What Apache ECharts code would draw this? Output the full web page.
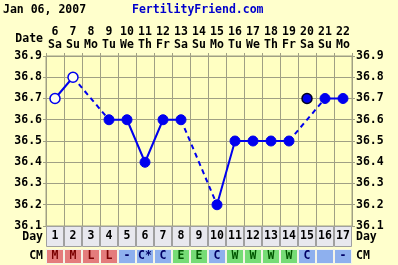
<!DOCTYPE html>
<html><head><meta charset="utf-8">
<script src="https://cdn.jsdelivr.net/npm/echarts@6/dist/echarts.min.js"></script>
<style>html,body{margin:0;padding:0;background:#FFFFCC;}#c{width:398px;height:265px;}</style>
</head><body><div id="c"></div>
<script>
const cycleDays = ['1','2','3','4','5','6','7','8','9','10','11','12','13','14','15','16','17'];
const dates = ['6','7','8','9','10','11','12','13','14','15','16','17','18','19','20','21','22'];
const weekdays = ['Sa','Su','Mo','Tu','We','Th','Fr','Sa','Su','Mo','Tu','We','Th','Fr','Sa','Su','Mo'];
const temps = [36.7,36.8,null,36.6,36.6,36.4,36.6,36.6,null,36.2,36.5,36.5,36.5,36.5,36.7,36.7,36.7];
const openDays = [1,2];
const discardedDays = [15];
const cm = ['M','M','L','L','-','C*','C','E','E','C','W','W','W','W','C','','-'];
const tempTicks = [36.1,36.2,36.3,36.4,36.5,36.6,36.7,36.8,36.9];

const FONT = 'DejaVu Sans Mono';
const FS = 11.5;
const BLUE = '#0000EE';
const GRIDC = '#A0A084';
const cmFill = {M:'#E47C7C',L:'#E47C7C','-':'#8EB0EE','C*':'#8EB0EE',C:'#8EB0EE','':'#8EB0EE',E:'#76DC76',W:'#76DC76'};
const cmText = {M:'#7A0000',L:'#7A0000','-':'#000066','C*':'#000066',C:'#000066','':'#000066',E:'#005500',W:'#005500'};

const lineData = temps.map((t,i)=> discardedDays.includes(i+1) ? null : t);
const mainData = lineData.map((t,i)=>{
  if (t===null) return null;
  if (openDays.includes(i+1)) return {value:t, symbol:'circle', symbolSize:10, itemStyle:{color:'#FFFFF0', borderColor:BLUE, borderWidth:1.5}};
  return {value:t, symbol:'circle', symbolSize:10, itemStyle:{color:BLUE, borderColor:BLUE, borderWidth:1}};
});
const discData = temps.map((t,i)=> discardedDays.includes(i+1) ? t : null);

const dashedSeries = [];
let prev = -1;
for (let i=0;i<lineData.length;i++){
  if (lineData[i]!==null){
    if (prev>=0 && i-prev>1){
      const d = lineData.map((_,k)=> (k===prev||k===i) ? lineData[k] : null);
      dashedSeries.push({type:'line', xAxisIndex:0, yAxisIndex:0, data:d, connectNulls:true, showSymbol:false, symbol:'none', silent:true, z:2,
        lineStyle:{color:BLUE, width:2, type:[5,4]}});
    }
    prev = i;
  }
}

const chart = echarts.init(document.getElementById('c'), null, {renderer:'canvas'});
const txt = (t, x, y, color, align) => ({type:'text', x:x, y:y, style:{text:t, fill:color||'#000', font:'bold '+FS+'px "'+FONT+'"', textAlign:align||'left', textVerticalAlign:'middle'}});

chart.setOption({
  backgroundColor:'#FFFFCC',
  animation:false,
  textStyle:{fontFamily:FONT},
  grid:[
    {left:46, top:56, width:306, height:170, show:true, backgroundColor:'#FFFFC2', borderColor:GRIDC, borderWidth:1},
    {left:46, top:226, width:306, height:21},
    {left:46, top:249, width:306, height:15}
  ],
  xAxis:[
    {gridIndex:0, type:'category', position:'top', data:dates, boundaryGap:true,
     axisLine:{show:true, lineStyle:{color:GRIDC}},
     axisTick:{show:true, length:3, inside:false, lineStyle:{color:GRIDC}},
     splitLine:{show:true, interval:0, lineStyle:{color:GRIDC, width:1}},
     axisLabel:{interval:0, margin:4, color:'#000', fontFamily:FONT, fontWeight:'bold', fontSize:FS, lineHeight:13,
       formatter:(v,i)=> v+'\n'+weekdays[i]}},
    {gridIndex:1, type:'category', data:cycleDays, boundaryGap:true, show:false},
    {gridIndex:2, type:'category', data:cycleDays, boundaryGap:true, show:false}
  ],
  yAxis:[
    {gridIndex:0, type:'value', min:36.1, max:36.9, interval:0.1, position:'left',
     axisLine:{show:true, lineStyle:{color:GRIDC}},
     axisTick:{show:true, length:3, lineStyle:{color:GRIDC}},
     splitLine:{show:true, lineStyle:{color:GRIDC, width:1}},
     axisLabel:{margin:4, color:'#000', fontFamily:FONT, fontWeight:'bold', fontSize:FS, formatter:v=>v.toFixed(1)}},
    {gridIndex:0, type:'value', min:36.1, max:36.9, interval:0.1, position:'right',
     axisLine:{show:true, lineStyle:{color:GRIDC}},
     axisTick:{show:true, length:3, lineStyle:{color:GRIDC}},
     splitLine:{show:false},
     axisLabel:{margin:4, color:'#000', fontFamily:FONT, fontWeight:'bold', fontSize:FS, formatter:v=>v.toFixed(1)}},
    {gridIndex:1, type:'value', min:0, max:1, show:false},
    {gridIndex:2, type:'value', min:0, max:1, show:false}
  ],
  graphic:[
    txt('Jan 06, 2007', 3, 10, '#000'),
    txt('FertilityFriend.com', 132, 10, '#0000CC'),
    txt('Date', 43, 39, '#000', 'right'),
    txt('Day', 43, 237, '#000', 'right'),
    txt('CM', 43, 256, '#000', 'right'),
    txt('Day', 356, 237, '#000'),
    txt('CM', 356, 256, '#000')
  ],
  series:[
    ...dashedSeries,
    {type:'line', xAxisIndex:0, yAxisIndex:0, data:mainData, connectNulls:false, z:3,
     lineStyle:{color:BLUE, width:2}, itemStyle:{color:BLUE}},
    {type:'line', xAxisIndex:0, yAxisIndex:0, data:discData, z:4, connectNulls:false,
     symbol:'circle', symbolSize:10, showAllSymbol:true, lineStyle:{width:0},
     itemStyle:{color:BLUE, borderColor:'#000022', borderWidth:1.5}},
    {type:'bar', xAxisIndex:1, yAxisIndex:2, barWidth:'100%', barCategoryGap:'0%',
     data:cycleDays.map(d=>({value:1})),
     itemStyle:{color:'#E8E8EE', borderColor:'#A0A0A0', borderWidth:1},
     label:{show:true, position:'inside', formatter:p=>cycleDays[p.dataIndex], color:'#000', fontFamily:FONT, fontWeight:'bold', fontSize:FS}},
    {type:'bar', xAxisIndex:2, yAxisIndex:3, barWidth:'100%', barCategoryGap:'0%',
     data:cm.map(c=>({value:1, itemStyle:{color:cmFill[c]}, label:{color:cmText[c]}})),
     itemStyle:{borderColor:'#F4F4E8', borderWidth:1},
     label:{show:true, position:'inside', formatter:p=>cm[p.dataIndex], fontFamily:FONT, fontWeight:'bold', fontSize:FS}}
  ]
});
</script>
</body></html>
